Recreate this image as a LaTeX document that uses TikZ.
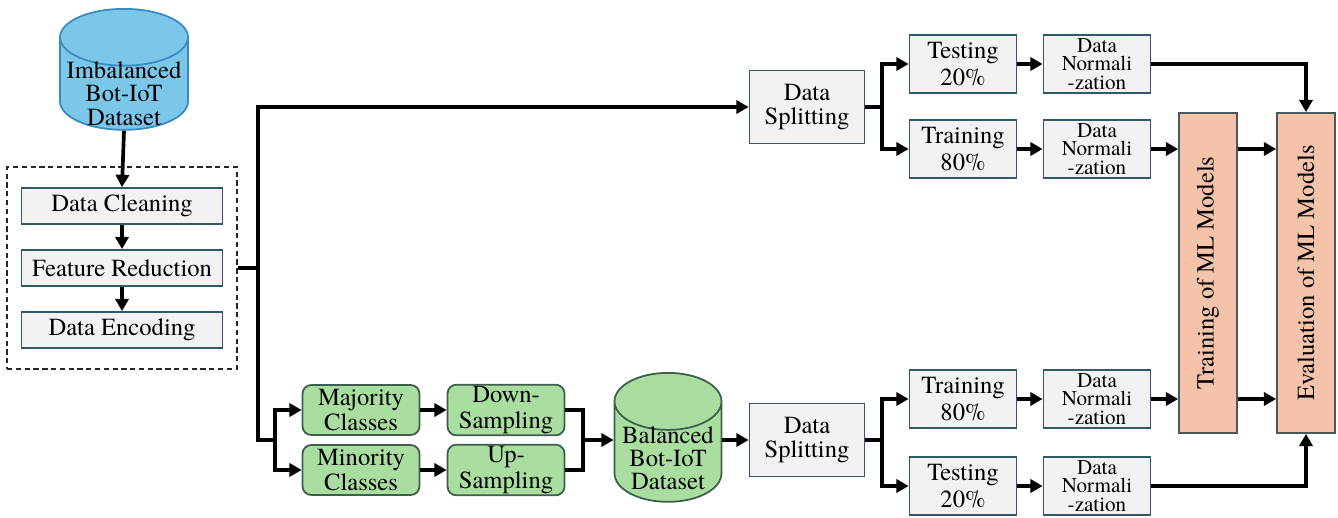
\documentclass[tikz,border=0pt]{standalone}
\usepackage{fontspec}
\setmainfont{texgyretermes}[Extension=.otf, UprightFont=*-regular, BoldFont=*-bold,
  ItalicFont=*-italic, BoldItalicFont=*-bolditalic]
\usetikzlibrary{arrows.meta,positioning,shapes.geometric,fit}
\definecolor{fillgrey}{HTML}{F2F2F2}
\definecolor{drawgrey}{HTML}{2F5A66}
\definecolor{fillgreen}{HTML}{A9DEA0}
\definecolor{drawgreen}{HTML}{3E5E4C}
\definecolor{fillblue}{HTML}{7BC7EA}
\definecolor{drawblue}{HTML}{3A8CBE}
\definecolor{fillorange}{HTML}{F4C3A9}
\definecolor{draworange}{HTML}{4A585C}
\newcommand{\dbtext}[2][-7pt]{\raisebox{#1}[0pt][0pt]{\begin{tabular}{@{}c@{}}#2\end{tabular}}}
\tikzset{
  proc/.style={draw=drawgrey, fill=fillgrey, line width=1pt, align=center,
    inner sep=1pt, font=\fontsize{14}{14}\selectfont},
  norm/.style={proc, minimum width=2.14cm, minimum height=1.16cm,
    font=\fontsize{12}{10.5}\selectfont},
  pct/.style={proc, minimum width=2.14cm, minimum height=1.16cm,
    font=\fontsize{14}{15}\selectfont},
  sampl/.style={proc, draw=drawgreen, fill=fillgreen, rounded corners=5pt,
    minimum width=2.34cm, minimum height=1.0cm, font=\fontsize{14}{14.5}\selectfont},
  db/.style={cylinder, shape border rotate=90, draw, line width=1pt, align=center,
    inner sep=1pt, anchor=north, font=\fontsize{14}{14}\selectfont},
  model/.style={proc, draw=draworange, fill=fillorange, minimum width=1.16cm,
    minimum height=6.4cm},
  prep/.style={draw=black!85, dash pattern=on 3pt off 2pt, line width=0.8pt,
    inner xsep=0.27cm, inner ysep=0.4cm},
  ln/.style={line width=2.1pt, draw=black},
  arr/.style={ln, -{Triangle[length=7pt, width=7.5pt]}},
}

\begin{document}
\renewcommand{\arraystretch}{0.95}
\begin{tikzpicture}[x=0.02cm, y=-0.02cm]
\useasboundingbox (0,0) rectangle (1338,517);

% preprocessing
\node[db, fill=fillblue, draw=drawblue, minimum width=2.56cm, minimum height=2.42cm,
  aspect=0.48] (c_imb) at (124,8) {\dbtext[-9pt]{Imbalanced\\Bot-IoT\\Dataset}};
\node[proc, minimum width=4.02cm, minimum height=0.72cm] (c_clean) at (122,206) {Data Cleaning};
\node[proc, minimum width=4.02cm, minimum height=0.72cm] (c_feat) at (122,268) {Feature Reduction};
\node[proc, minimum width=4.02cm, minimum height=0.72cm] (c_enc) at (122,330) {Data Encoding};
\node[prep, fit=(c_clean)(c_enc)] (c_prep) {};

% balancing
\node[sampl] (c_maj) at (361,410) {Majority\\Classes};
\node[sampl] (c_min) at (361,470) {Minority\\Classes};
\node[sampl] (c_down) at (506,410) {Down-\\Sampling};
\node[sampl] (c_up) at (506,470) {Up-\\Sampling};
\node[db, fill=fillgreen, draw=drawgreen, minimum width=2.14cm, minimum height=2.58cm,
  aspect=0.6] (c_bal) at (668,372) {\dbtext{Balanced\\Bot-IoT\\Dataset}};

% splitting
\node[proc, minimum width=2.3cm, minimum height=1.46cm] (c_split1) at (807,107) {Data\\Splitting};
\node[proc, minimum width=2.3cm, minimum height=1.46cm] (c_split2) at (807,440) {Data\\Splitting};
\node[pct] (c_test1) at (963,64) {Testing\\20\%};
\node[pct] (c_train1) at (963,149) {Training\\80\%};
\node[pct] (c_train2) at (963,399) {Training\\80\%};
\node[pct] (c_test2) at (963,486) {Testing\\20\%};
\node[norm] (c_norm1) at (1097,64) {Data\\Normali\\-zation};
\node[norm] (c_norm2) at (1097,149) {Data\\Normali\\-zation};
\node[norm] (c_norm3) at (1097,399) {Data\\Normali\\-zation};
\node[norm] (c_norm4) at (1097,486) {Data\\Normali\\-zation};

% models
\node[model] (c_train) at (1208,273) {\rotatebox{90}{Training of ML Models}};
\node[model] (c_eval) at (1306,273) {\rotatebox{90}{Evaluation of ML Models}};

\coordinate (j_trunk) at (258,268);
\coordinate (j_bal) at (275,440);
\coordinate (j_merge) at (583,440);
\coordinate (j_s1) at (882,107);
\coordinate (j_s2) at (882,440);

\draw[arr] (c_imb.south) -- (c_clean.north);
\draw[arr] (c_clean) -- (c_feat);
\draw[arr] (c_feat) -- (c_enc);
\draw[ln] (c_prep.east) -- (j_trunk);
\draw[arr] (j_trunk) |- (c_split1.west);
\draw[ln] (j_trunk) |- (j_bal);
\draw[arr] (j_bal) |- (c_maj.west);
\draw[arr] (j_bal) |- (c_min.west);
\draw[arr] (c_maj) -- (c_down);
\draw[arr] (c_min) -- (c_up);
\draw[ln] (c_down.east) -| (j_merge);
\draw[ln] (c_up.east) -| (j_merge);
\draw[arr] (j_merge) -- (j_merge -| c_bal.west);
\draw[arr] (c_bal.east |- c_split2.west) -- (c_split2.west);

\draw[ln] (c_split1.east) -- (j_s1);
\draw[arr] (j_s1) |- (c_test1.west);
\draw[arr] (j_s1) |- (c_train1.west);
\draw[ln] (c_split2.east) -- (j_s2);
\draw[arr] (j_s2) |- (c_train2.west);
\draw[arr] (j_s2) |- (c_test2.west);
\draw[arr] (c_test1) -- (c_norm1);
\draw[arr] (c_train1) -- (c_norm2);
\draw[arr] (c_train2) -- (c_norm3);
\draw[arr] (c_test2) -- (c_norm4);

\draw[arr] (c_norm1.east) -| (c_eval.north);
\draw[arr] (c_norm2.east) -- (c_norm2.east -| c_train.west);
\draw[arr] (c_norm3.east) -- (c_norm3.east -| c_train.west);
\draw[arr] (c_norm2.east -| c_train.east) -- (c_norm2.east -| c_eval.west);
\draw[arr] (c_norm3.east -| c_train.east) -- (c_norm3.east -| c_eval.west);
\draw[arr] (c_norm4.east) -| (c_eval.south);

\end{tikzpicture}
\end{document}
